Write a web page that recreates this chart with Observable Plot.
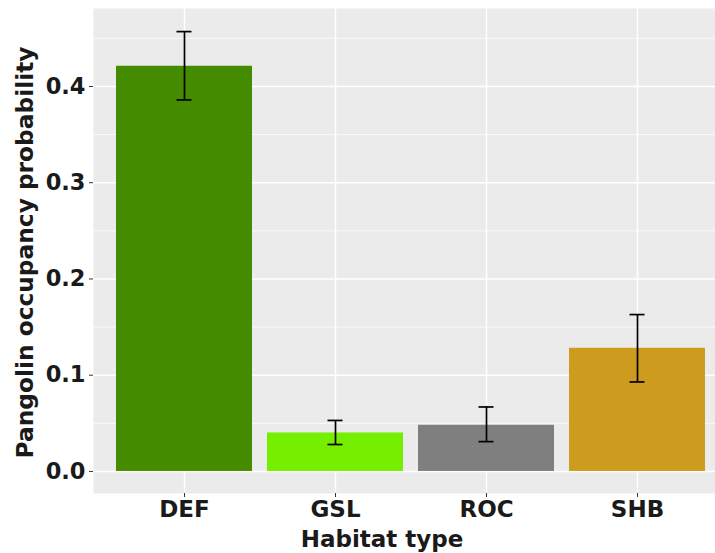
<!DOCTYPE html>
<html><head><meta charset="utf-8">
<script src="https://cdn.jsdelivr.net/npm/d3@7"></script>
<script src="https://cdn.jsdelivr.net/npm/@observablehq/plot@0.6"></script>
<style>
body{margin:0;background:#fff;overflow:hidden}
svg{display:block}
</style>
</head><body><div id="chart"></div>
<script>
const habitats = ["DEF", "GSL", "ROC", "SHB"];
const occupancy = [0.421, 0.040, 0.048, 0.128];
const lower = [0.386, 0.028, 0.031, 0.093];
const upper = [0.457, 0.053, 0.067, 0.163];
const colors = ["#458B00", "#76EE00", "#7F7F7F", "#CD9B1D"];
const majorTicks = [0, 0.1, 0.2, 0.3, 0.4];
const minorTicks = [0.05, 0.15, 0.25, 0.35, 0.45];
const xTitle = "Habitat type";
const yTitle = "Pangolin occupancy probability";

const data = habitats.map((h, i) => ({habitat: h, p: occupancy[i], lo: lower[i], hi: upper[i]}));
const font = "'DejaVu Sans', 'Liberation Sans', Arial, sans-serif";

const chart = Plot.plot({
  width: 715, height: 553,
  marginLeft: 93, marginRight: -13, marginTop: 8, marginBottom: 60,
  style: {fontFamily: font, background: "#fff", color: "#1a1a1a", overflow: "hidden", fontWeight: "bold"},
  x: {domain: habitats, paddingInner: 0.1, paddingOuter: 0.15, label: null},
  y: {domain: [-0.0229, 0.481], label: null},
  color: {domain: habitats, range: colors},
  marks: [
    Plot.frame({fill: "#EBEBEB", stroke: null}),
    Plot.ruleY(minorTicks, {stroke: "#fff", strokeWidth: 0.7}),
    Plot.ruleY(majorTicks, {stroke: "#fff", strokeWidth: 1.4}),
    Plot.ruleX(habitats, {x: d => d, stroke: "#fff", strokeWidth: 1.4}),
    Plot.barY(data, {x: "habitat", y: "p", fill: "habitat"}),
    Plot.ruleX(data, {x: "habitat", y1: "lo", y2: "hi", stroke: "#000", strokeWidth: 1.7}),
    Plot.tickY(data, {x: "habitat", y: "lo", stroke: "#000", strokeWidth: 1.7, insetLeft: 60.5, insetRight: 60.5}),
    Plot.tickY(data, {x: "habitat", y: "hi", stroke: "#000", strokeWidth: 1.7, insetLeft: 60.5, insetRight: 60.5}),
    Plot.axisY({ticks: majorTicks, tickFormat: d3.format(".1f"), tickSize: 4, tickPadding: 4, stroke: "#333", label: null,
      fontSize: 22.5, fontWeight: "bold", fill: "#1a1a1a"}),
    Plot.axisX({tickSize: 4, tickPadding: 3, stroke: "#333", label: null,
      fontSize: 23, fontWeight: "bold", fill: "#1a1a1a"}),
    Plot.text([xTitle], {frameAnchor: "bottom", lineAnchor: "middle", textAnchor: "middle", dy: 46, dx: -29,
      fontSize: 23, fontWeight: "bold", fill: "#1a1a1a"}),
    Plot.text([yTitle], {frameAnchor: "left", lineAnchor: "middle", textAnchor: "middle", rotate: -90, dx: -68, dy: 1.5,
      fontSize: 23.3, fontWeight: "bold", fill: "#1a1a1a"})
  ]
});
document.getElementById("chart").appendChild(chart);
</script>
</body></html>
